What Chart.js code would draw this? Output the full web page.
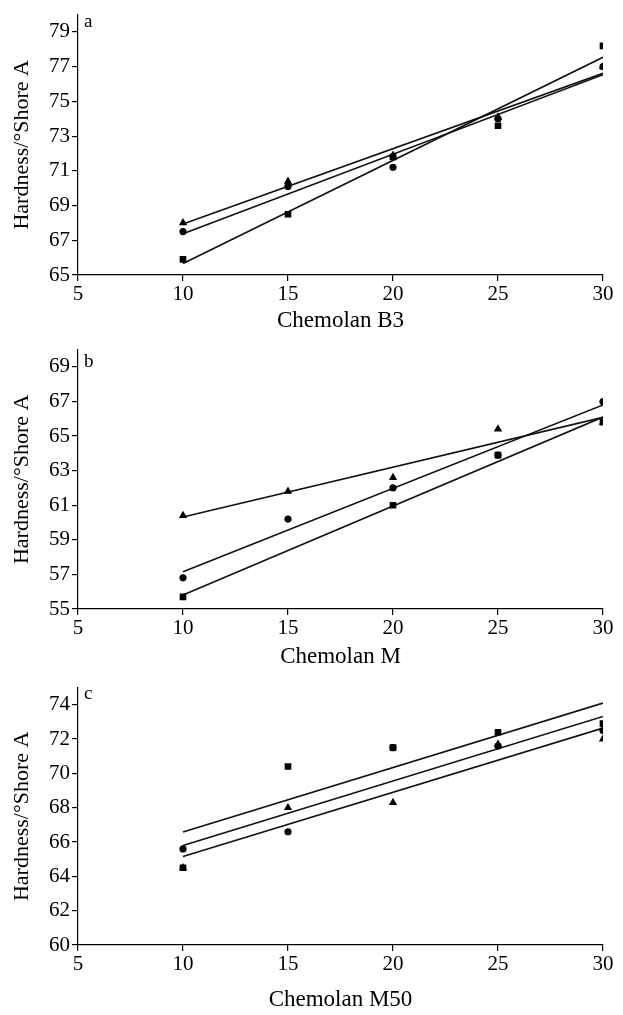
<!DOCTYPE html>
<html><head><meta charset="utf-8">
<script src="https://cdn.jsdelivr.net/npm/chart.js@4.4.1/dist/chart.umd.min.js"></script>
<style>
html,body{margin:0;padding:0;background:#fff;width:623px;height:1015px;overflow:hidden;}
.p{position:absolute;left:0;width:623px;}
canvas{display:block;}
</style></head><body>
<div class="p" style="top:0px"><canvas id="ca" width="623" height="335"></canvas></div>
<div class="p" style="top:335px"><canvas id="cb" width="623" height="338"></canvas></div>
<div class="p" style="top:673px"><canvas id="cc" width="623" height="342"></canvas></div>
<script>
// ---- data ----
const xValues = [10, 15, 20, 25, 30];
const xTicks = [5, 10, 15, 20, 25, 30];
const yTitle = 'Hardness/°Shore A';

// Panel a: Chemolan B3
const aSquare   = [65.9, 68.5, 71.8, 73.6, 78.2];
const aCircle   = [67.5, 70.1, 71.2, 74.0, 77.0];
const aTriangle = [68.0, 70.4, 71.9, 74.1, 77.0];
const aYTicks   = [65, 67, 69, 71, 73, 75, 77, 79];

// Panel b: Chemolan M
const bSquare   = [55.7, null, 61.0, 63.9, 65.8];
const bCircle   = [56.8, 60.2, 62.0, 63.9, 67.0];
const bTriangle = [60.4, 61.8, 62.6, 65.4, 65.8];
const bYTicks   = [55, 57, 59, 61, 63, 65, 67, 69];

// Panel c: Chemolan M50
const cSquare   = [64.5, 70.4, 71.5, 72.4, 72.9];
const cCircle   = [65.6, 66.6, 71.5, 71.6, 72.5];
const cTriangle = [64.5, 68.0, 68.3, 71.7, 72.0];
const cYTicks   = [60, 62, 64, 66, 68, 70, 72, 74];

// ---- helpers ----
function pts(ys) {
  return xValues.map((x, i) => ({x: x, y: ys[i]})).filter(p => p.y !== null);
}
// least-squares trend line through the data (as in the original figure)
function trend(ys) {
  const p = pts(ys);
  const n = p.length;
  const mx = p.reduce((s, q) => s + q.x, 0) / n;
  const my = p.reduce((s, q) => s + q.y, 0) / n;
  let sxy = 0, sxx = 0;
  p.forEach(q => { sxy += (q.x - mx) * (q.y - my); sxx += (q.x - mx) * (q.x - mx); });
  const b = sxy / sxx, a = my - b * mx;
  const x0 = p[0].x, x1 = p[n - 1].x;
  return [{x: x0, y: a + b * x0}, {x: x1, y: a + b * x1}];
}

const letterPlugin = {
  id: 'letter',
  afterDraw(chart, args, o) {
    const ctx = chart.ctx;
    ctx.save();
    ctx.font = '19px "Liberation Serif"';
    ctx.fillStyle = '#000';
    ctx.textBaseline = 'alphabetic';
    ctx.textAlign = 'left';
    ctx.fillText(o.text, chart.chartArea.left + 6, chart.chartArea.top + o.dy);
    ctx.restore();
  }
};

const FONT = 'Liberation Serif';

function makePanel(id, sq, ci, tr, yTicks, yMin, yMax, xTitle, letter, letterDy, padTop, xH, titlePad) {
  const markerCommon = {showLine: false, backgroundColor: '#000', borderColor: '#000', borderWidth: 0, pointHoverRadius: 0};
  const lineCommon = {showLine: true, pointRadius: 0, borderColor: '#111', borderWidth: 1.6, fill: false, tension: 0};
  new Chart(document.getElementById(id), {
    type: 'scatter',
    data: {
      datasets: [
        Object.assign({label: 'square', data: pts(sq), pointStyle: 'rect', pointRadius: 4.7}, markerCommon),
        Object.assign({label: 'circle', data: pts(ci), pointStyle: 'circle', pointRadius: 3.6}, markerCommon),
        Object.assign({label: 'triangle', data: pts(tr), pointStyle: 'triangle', pointRadius: 4.8}, markerCommon),
        Object.assign({label: 'square fit', data: trend(sq)}, lineCommon),
        Object.assign({label: 'circle fit', data: trend(ci)}, lineCommon),
        Object.assign({label: 'triangle fit', data: trend(tr)}, lineCommon)
      ]
    },
    options: {
      responsive: false,
      animation: false,
      devicePixelRatio: 1,
      events: [],
      layout: {padding: {top: padTop, left: 0, right: 20, bottom: 0}},
      plugins: {
        legend: {display: false},
        tooltip: {enabled: false},
        letter: {text: letter, dy: letterDy}
      },
      scales: {
        x: {
          type: 'linear', min: 5, max: 30,
          afterBuildTicks: s => { s.ticks = xTicks.map(v => ({value: v})); },
          afterFit: s => { s.height = xH; },
          border: {display: true, color: '#000', width: 1.2},
          grid: {drawOnChartArea: false, drawTicks: true, tickLength: 6, color: '#000', lineWidth: 1.2},
          ticks: {color: '#000', font: {family: FONT, size: 21}, padding: 1, maxRotation: 0, autoSkip: false},
          title: {display: true, text: xTitle, color: '#000', font: {family: FONT, size: 23}, padding: {top: 0, bottom: titlePad}}
        },
        y: {
          type: 'linear', min: yMin, max: yMax,
          afterBuildTicks: s => { s.ticks = yTicks.map(v => ({value: v})); },
          afterFit: s => { s.width = 78; },
          border: {display: true, color: '#000', width: 1.2},
          grid: {drawOnChartArea: false, drawTicks: true, tickLength: 6, color: '#000', lineWidth: 1.2},
          ticks: {color: '#000', font: {family: FONT, size: 21}, padding: 2, autoSkip: false},
          title: {display: true, text: yTitle, color: '#000', font: {family: FONT, size: 22}, padding: {top: 9, bottom: 0}}
        }
      }
    },
    plugins: [letterPlugin]
  });
}

makePanel('ca', aSquare, aCircle, aTriangle, aYTicks, 65, 80, 'Chemolan B3', 'a', 12, 13, 60, 0);
makePanel('cb', bSquare, bCircle, bTriangle, bYTicks, 55, 70, 'Chemolan M', 'b', 17, 11, 64, 2);
makePanel('cc', cSquare, cCircle, cTriangle, cYTicks, 60, 75, 'Chemolan M50', 'c', 11, 10, 70, 1);
</script>
</body></html>
